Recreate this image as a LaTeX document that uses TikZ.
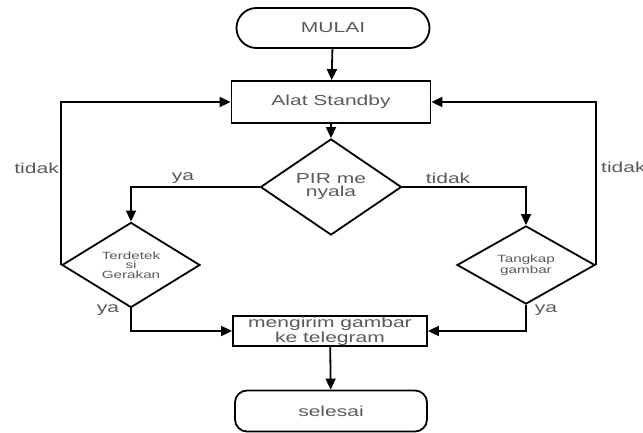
\documentclass[tikz,border=0pt]{standalone}
\usepackage{fontspec}
\setmainfont{Liberation Sans}[FakeStretch=1.45]
\usetikzlibrary{shapes.geometric,arrows.meta}
\definecolor{teks}{RGB}{90,90,90}
\begin{document}
\begin{tikzpicture}[x=1pt,y=-1pt,
  garis/.style={line width=1.8pt},
  panah/.style={garis,-{Triangle[length=11pt,width=10pt]}},
  kotak/.style={draw,garis,rectangle,text=teks,font=\fontsize{14.5}{13}\selectfont,align=center,inner sep=0pt},
  ujung/.style={kotak,rounded corners=#1},
  belah/.style={draw,garis,diamond,text=teks,align=center,inner sep=0pt},
  ket/.style={text=teks,font=\fontsize{14.5}{16}\selectfont,inner sep=0pt}]
\useasboundingbox (0,0) rectangle (643,433);
\def\kecil{\fontsize{10.5}{9.5}\selectfont}
% kotak dan keputusan
\node[ujung=20pt,minimum width=193pt,minimum height=40pt] (mulai) at (333,28) {MULAI};
\node[kotak,minimum width=199pt,minimum height=42pt] (standby) at (331,102) {Alat Standby};
\node[belah,minimum width=141pt,minimum height=64pt,font=\fontsize{14.5}{13}\selectfont] (pir) at (331,187) {PIR me\\nyala};
\node[belah,minimum width=138pt,minimum height=64pt,font=\kecil] (deteksi) at (131,265) {Terdetek\\si\\Gerakan};
\node[belah,minimum width=138pt,minimum height=64pt,font=\kecil] (tangkap) at (526,265) {Tangkap\\gambar};
\node[kotak,minimum width=194pt,minimum height=30pt] (kirim) at (330,331) {mengirim gambar\\ke telegram};
\node[ujung=12pt,minimum width=192pt,minimum height=41pt] (selesai) at (331,411) {selesai};
% panah
\draw[panah] (mulai) -- (standby);
\draw[panah] (standby) -- (pir);
\draw[panah] (pir.west) -| (deteksi.north);
\draw[panah] (pir.east) -| (tangkap.north);
\draw[panah] (deteksi.west) |- (standby.west);
\draw[panah] (tangkap.east) |- (standby.east);
\draw[panah] (deteksi.south) |- (kirim.west);
\draw[panah] (tangkap.south) |- (kirim.east);
\draw[panah] (kirim) -- (selesai);
% keterangan
\node[ket] (ya1) at (183,178) {ya};
\node[ket] (tidak1) at (448,178) {tidak};
\node[ket,anchor=east] (tidak2) at (59,168) {tidak};
\node[ket,anchor=west] (tidak3) at (601,167) {tidak};
\node[ket] (ya2) at (108,310) {ya};
\node[ket] (ya3) at (546,310) {ya};
\end{tikzpicture}
\end{document}
